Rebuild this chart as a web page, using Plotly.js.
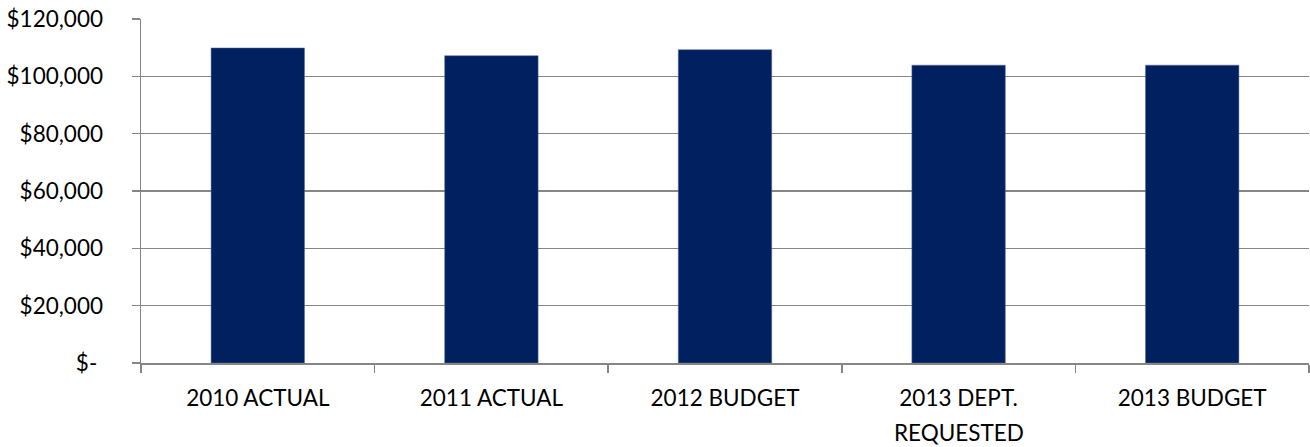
<!DOCTYPE html>
<html>
<head>
<meta charset="utf-8">
<script src="https://cdn.plot.ly/plotly-3.0.1.min.js"></script>
<style>html,body{margin:0;padding:0;background:#fff;}#chart{width:1310px;height:447px;}</style>
</head>
<body>
<div id="chart"></div>
<script>
const categories = ["2010 ACTUAL", "2011 ACTUAL", "2012 BUDGET", "2013 DEPT.", "2013 BUDGET"];
const secondLine = ["", "", "", "REQUESTED", ""];
const values = [109900, 107200, 109300, 103900, 103900];
const yTickVals = [0, 20000, 40000, 60000, 80000, 100000, 120000];
const yTickText = ["$-\u00a0", "$20,000", "$40,000", "$60,000", "$80,000", "$100,000", "$120,000"];

const font = {family: "Lato, sans-serif", size: 22.5, color: "#000"};

const annotations = categories.map((c, i) => ({
  x: c, xref: "x", y: 0, yref: "paper", yshift: -69,
  text: secondLine[i], showarrow: false, font: font, xanchor: "center", yanchor: "middle"
})).filter(a => a.text);

const data = [{
  type: "bar", x: categories, y: values,
  marker: {color: "#002060", line: {color: "#5a6f9a", width: 0.5}},
  hoverinfo: "x+y"
}];

const layout = {
  width: 1310, height: 447,
  margin: {l: 141, r: 1, t: 19, b: 84},
  paper_bgcolor: "#fff", plot_bgcolor: "#fff",
  showlegend: false,
  bargap: 0.6,
  font: font,
  xaxis: {
    type: "category", range: [-0.5, 4.5],
    showline: true, linecolor: "#868686", linewidth: 1.5,
    ticks: "outside", tickson: "boundaries", ticklen: 8, tickcolor: "#868686", tickwidth: 1.5,
    showgrid: false, tickfont: font, ticklabelstandoff: 14
  },
  yaxis: {
    range: [0, 120000], tickvals: yTickVals, ticktext: yTickText,
    showline: true, linecolor: "#868686", linewidth: 1.5,
    ticks: "outside", ticklen: 8, tickcolor: "#868686", tickwidth: 1.5,
    showgrid: true, gridcolor: "#868686", gridwidth: 1.5,
    zeroline: false, tickfont: font, ticklabelstandoff: 24
  },
  annotations: annotations
};

Plotly.newPlot("chart", data, layout, {displayModeBar: false, staticPlot: true});
</script>
</body>
</html>
